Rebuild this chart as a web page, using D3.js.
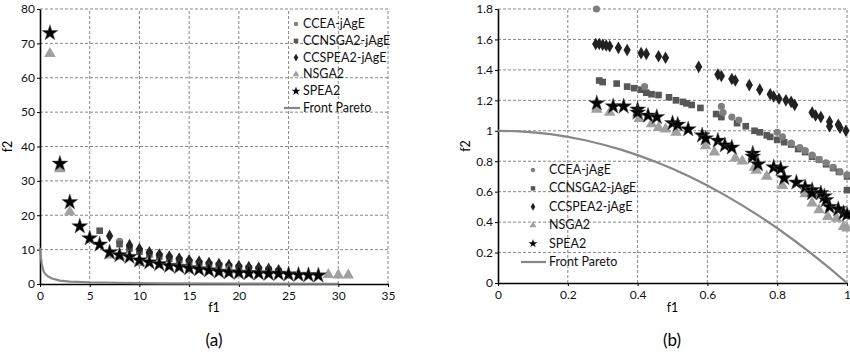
<!DOCTYPE html>
<html>
<head>
<meta charset="utf-8">
<script src="https://cdn.jsdelivr.net/npm/d3@7"></script>
<style>
  body { margin: 0; background: #fff; }
  text { font-family: Lato, "Open Sans", sans-serif; }
</style>
</head>
<body>
<script>
// ---- panel (a) data: [f1, f2] ----
const aCCEA = [[8,12.4],[9,10.9],[10,9.9],[11,9.1],[12,8.4],[13,7.8],[14,7.2],[15,6.7],[16,6.2],[17,5.9],[18,5.6],[19,5.3],[20,5.0],[21,4.7],[22,4.5],[23,4.2],[24,3.9]];
const aCCNSGA2 = [[6,15.5],[8,11.6],[9,10.3],[10,9.4],[11,8.6],[12,8.0],[13,7.4],[14,6.9],[15,6.4],[16,6.0],[17,5.7],[18,5.4],[19,5.1],[20,4.8],[21,4.6],[22,4.3],[23,4.1],[24,3.7]];
const aCCSPEA2 = [[7,14],[9,11.3],[10,10.2],[11,9.2],[12,8.6],[13,8.0],[14,7.4],[15,6.9],[16,6.5],[17,6.1],[18,5.8],[19,5.5],[20,5.2],[21,4.9],[22,4.7],[23,4.4],[24,4.0]];
const aNSGA2 = [[1,67],[2,33.5],[3,21],[7,8.4],[8,8.0],[10,6.2],[19,4.0],[29,2.7],[30,2.6],[31,2.6]];
const aSPEA2 = [[1,73],[2,35],[3,23.8],[4,16.8],[5,13.3],[6,11.5],[7,9.2],[8,8.4],[9,7.9],[10,6.9],[11,6.3],[12,5.8],[13,5.3],[14,5.0],[15,4.6],[16,4.3],[17,4.0],[18,3.6],[19,3.4],[20,3.3],[21,3.2],[22,3.1],[23,3.0],[24,3.0],[25,2.8],[26,2.7],[27,2.6],[28,2.5]];
const aPareto = [[0,10.5],[0.1,7.5],[0.2,5.5],[0.35,3.8],[0.5,3.0],[0.8,2.2],[1.2,1.6],[2,1.0],[3,0.7],[5,0.45],[8,0.3],[12,0.2],[20,0.12],[30,0.08]];
const aXTicks = [0,5,10,15,20,25,30,35];
const aYTicks = [0,10,20,30,40,50,60,70,80];

// ---- panel (b) data: [f1, f2] ----
const bCCEA = [[0.282,1.80],[0.42,1.29],[0.64,1.16],[0.645,1.12],[0.67,1.09],[0.69,1.07],[0.80,0.99],[0.815,0.96],[0.84,0.92],[0.865,0.89],[0.88,0.87],[0.90,0.84],[0.92,0.81],[0.94,0.79],[0.96,0.76],[0.98,0.73],[1.0,0.71]];
const bCCNSGA2 = [[0.29,1.33],[0.30,1.32],[0.34,1.31],[0.37,1.29],[0.39,1.28],[0.41,1.27],[0.425,1.25],[0.44,1.24],[0.46,1.235],[0.49,1.22],[0.51,1.20],[0.53,1.19],[0.54,1.18],[0.555,1.17],[0.58,1.15],[0.625,1.11],[0.64,1.09],[0.685,1.05],[0.71,1.03],[0.735,1.00],[0.75,0.99],[0.77,0.97],[0.78,0.96],[0.80,0.94],[0.82,0.925],[0.84,0.91],[0.86,0.88],[0.88,0.86],[0.90,0.83],[0.92,0.81],[0.94,0.78],[0.96,0.755],[0.977,0.73],[1.0,0.70],[1.0,0.61]];
const bCCSPEA2 = [[0.28,1.57],[0.29,1.57],[0.30,1.565],[0.31,1.56],[0.32,1.555],[0.345,1.545],[0.37,1.53],[0.41,1.51],[0.425,1.505],[0.46,1.49],[0.48,1.48],[0.575,1.42],[0.63,1.37],[0.64,1.36],[0.67,1.34],[0.68,1.33],[0.72,1.30],[0.75,1.27],[0.78,1.24],[0.79,1.225],[0.805,1.21],[0.825,1.20],[0.84,1.19],[0.85,1.17],[0.90,1.12],[0.91,1.10],[0.925,1.09],[0.95,1.06],[0.95,1.03],[0.975,1.04],[0.98,1.02],[0.997,1.00]];
const bNSGA2 = [[0.283,1.14],[0.32,1.12],[0.405,1.08],[0.44,1.045],[0.46,1.02],[0.48,1.01],[0.51,0.99],[0.595,0.90],[0.62,0.86],[0.68,0.82],[0.70,0.80],[0.735,0.76],[0.74,0.74],[0.77,0.70],[0.815,0.64],[0.88,0.585],[0.90,0.525],[0.92,0.48],[0.945,0.435],[0.97,0.425],[0.99,0.37],[1.0,0.36]];
const bSPEA2 = [[0.283,1.18],[0.33,1.16],[0.36,1.16],[0.40,1.14],[0.40,1.12],[0.43,1.10],[0.455,1.09],[0.50,1.05],[0.515,1.04],[0.545,1.01],[0.585,0.97],[0.595,0.95],[0.63,0.935],[0.65,0.905],[0.67,0.89],[0.73,0.85],[0.73,0.83],[0.745,0.78],[0.79,0.76],[0.81,0.75],[0.82,0.69],[0.855,0.66],[0.88,0.63],[0.90,0.61],[0.90,0.59],[0.925,0.59],[0.935,0.57],[0.94,0.545],[0.95,0.50],[0.975,0.485],[0.99,0.46],[1.0,0.45]];
const bParetoF1 = [0,0.05,0.1,0.15,0.2,0.25,0.3,0.35,0.4,0.45,0.5,0.55,0.6,0.65,0.7,0.75,0.8,0.85,0.9,0.95,1];
const bParetoF2 = [1,0.9975,0.99,0.9775,0.96,0.9375,0.91,0.8775,0.84,0.7975,0.75,0.6975,0.64,0.5775,0.51,0.4375,0.36,0.2775,0.19,0.0975,0];
const bXTicks = [0,0.2,0.4,0.6,0.8,1];
const bYTicks = [0,0.2,0.4,0.6,0.8,1,1.2,1.4,1.6,1.8];

const seriesNames = ['CCEA-jAgE','CCNSGA2-jAgE','CCSPEA2-jAgE','NSGA2','SPEA2'];

// marker styles per series
const styles = {
  'CCEA-jAgE':    { type: d3.symbolCircle,   size: 40, color: '#7f7f7f', lsize: 16 },
  'CCNSGA2-jAgE': { type: d3.symbolSquare,   size: 44, color: '#575757', lsize: 20 },
  'CCSPEA2-jAgE': { type: d3.symbolDiamond,  size: 46, color: '#222222', lsize: 18 },
  'NSGA2':        { type: d3.symbolTriangle, size: 58, color: '#a0a0a0', lsize: 20 },
  'SPEA2':        { type: d3.symbolStar,     size: 78, color: '#000000', lsize: 24 }
};
const paretoColor = '#878787';

const svg = d3.select('body').append('svg')
  .attr('width', 850)
  .attr('height', 361);

svg.append('rect').attr('width', 850).attr('height', 361).attr('fill', '#fff');

function drawPanel(p) {
  const x = d3.scaleLinear().domain(p.xDomain).range(p.xRange);
  const y = d3.scaleLinear().domain(p.yDomain).range(p.yRange);
  const g = svg.append('g');

  // dashed grid
  g.selectAll('.vgrid').data(p.xTicks.slice(1)).enter().append('line')
    .attr('x1', d => x(d)).attr('x2', d => x(d))
    .attr('y1', p.yRange[0]).attr('y2', p.yRange[1])
    .attr('stroke', '#7a7a7a').attr('stroke-width', 0.9).attr('stroke-dasharray', '3,2');
  g.selectAll('.hgrid').data(p.yTicks.slice(1)).enter().append('line')
    .attr('x1', p.xRange[0]).attr('x2', p.xRange[1])
    .attr('y1', d => y(d)).attr('y2', d => y(d))
    .attr('stroke', '#7a7a7a').attr('stroke-width', 0.9).attr('stroke-dasharray', '3,2');

  // axes
  const xAxis = g.append('g')
    .attr('transform', `translate(0,${p.yRange[0]})`)
    .call(d3.axisBottom(x).tickValues(p.xTicks).tickFormat(p.fmt).tickSize(3).tickSizeOuter(0).tickPadding(4));
  const yAxis = g.append('g')
    .attr('transform', `translate(${p.xRange[0]},0)`)
    .call(d3.axisLeft(y).tickValues(p.yTicks).tickFormat(p.fmt).tickSize(3).tickSizeOuter(0).tickPadding(2));
  [xAxis, yAxis].forEach(a => {
    a.select('.domain').attr('stroke', '#000').attr('stroke-width', 1.6);
    a.selectAll('.tick line').attr('stroke', '#000');
    a.selectAll('.tick text').attr('font-family', 'Lato, sans-serif').attr('font-size', 12).attr('fill', '#111');
  });

  // pareto front
  g.append('path')
    .datum(p.pareto)
    .attr('fill', 'none')
    .attr('stroke', paretoColor)
    .attr('stroke-width', 2.2)
    .attr('d', d3.line().x(d => x(d[0])).y(d => y(d[1])));

  // series, drawn in stacking order
  p.order.forEach(name => {
    const s = styles[name];
    g.selectAll(null).data(p.series[name]).enter().append('path')
      .attr('transform', d => `translate(${x(d[0])},${y(d[1])})`)
      .attr('d', d3.symbol().type(s.type).size(s.size))
      .attr('fill', s.color)
      .attr('stroke', name === 'SPEA2' ? '#555' : 'none')
      .attr('stroke-width', 0.5);
  });

  // axis titles
  g.append('text').attr('x', (p.xRange[0] + p.xRange[1]) / 2).attr('y', 312)
    .attr('text-anchor', 'middle').attr('font-size', 12.5).text('f1');
  g.append('text')
    .attr('transform', `translate(${p.yLabelX},${(p.yRange[0] + p.yRange[1]) / 2}) rotate(-90)`)
    .attr('text-anchor', 'middle').attr('font-size', 12.5).text('f2');

  // caption
  g.append('text').attr('x', p.captionX).attr('y', 346)
    .attr('text-anchor', 'middle')
    .attr('font-family', '"Liberation Serif", serif')
    .attr('font-size', 17).text(p.caption);

  // legend (transparent, no frame)
  const lg = g.append('g');
  seriesNames.forEach((name, i) => {
    const s = styles[name];
    const yy = p.legY + i * p.legStep;
    lg.append('path')
      .attr('transform', `translate(${p.legX},${yy})`)
      .attr('d', d3.symbol().type(s.type).size(s.lsize))
      .attr('fill', s.color);
    lg.append('text').attr('x', p.legX + p.legText).attr('y', yy + 4)
      .attr('font-size', 12.5).attr('fill', '#111').text(name);
  });
  const yy = p.legY + 5 * p.legStep;
  lg.append('line')
    .attr('x1', p.legX - 12).attr('x2', p.legX + p.legText - 3)
    .attr('y1', yy).attr('y2', yy)
    .attr('stroke', paretoColor).attr('stroke-width', 2.2);
  lg.append('text').attr('x', p.legX + p.legText).attr('y', yy + 4)
    .attr('font-size', 12.5).attr('fill', '#111').text('Front Pareto');
}

drawPanel({
  xDomain: [0, 35], yDomain: [0, 80],
  xRange: [40, 388], yRange: [284, 9],
  xTicks: aXTicks, yTicks: aYTicks,
  fmt: d3.format('d'),
  pareto: aPareto,
  series: { 'CCEA-jAgE': aCCEA, 'CCNSGA2-jAgE': aCCNSGA2, 'CCSPEA2-jAgE': aCCSPEA2, 'NSGA2': aNSGA2, 'SPEA2': aSPEA2 },
  order: ['CCEA-jAgE', 'CCNSGA2-jAgE', 'CCSPEA2-jAgE', 'NSGA2', 'SPEA2'],
  yLabelX: 12, captionX: 214, caption: '(a)',
  legX: 296, legY: 24, legStep: 16.8, legText: 7
});

drawPanel({
  xDomain: [0, 1], yDomain: [0, 1.8],
  xRange: [498, 847], yRange: [283, 9],
  xTicks: bXTicks, yTicks: bYTicks,
  fmt: d => String(+d.toFixed(1)),
  pareto: bParetoF1.map((f, i) => [f, bParetoF2[i]]),
  series: { 'CCEA-jAgE': bCCEA, 'CCNSGA2-jAgE': bCCNSGA2, 'CCSPEA2-jAgE': bCCSPEA2, 'NSGA2': bNSGA2, 'SPEA2': bSPEA2 },
  order: ['CCNSGA2-jAgE', 'CCEA-jAgE', 'CCSPEA2-jAgE', 'NSGA2', 'SPEA2'],
  yLabelX: 470, captionX: 672, caption: '(b)',
  legX: 533, legY: 170, legStep: 18.4, legText: 16
});
</script>
</body>
</html>
